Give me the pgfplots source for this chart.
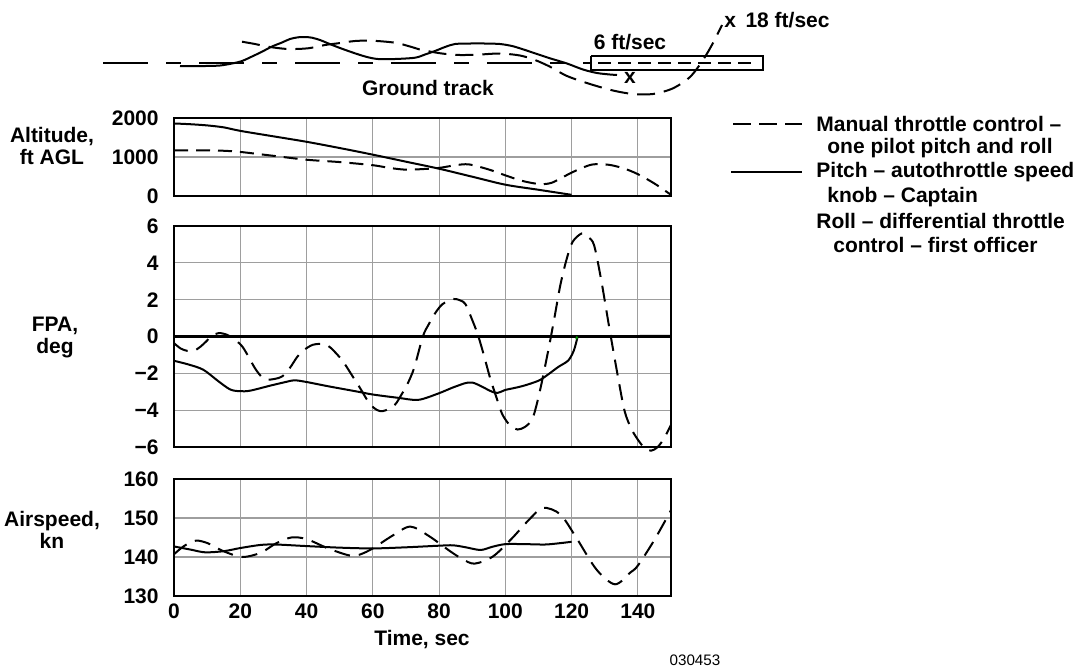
\documentclass[border=0pt]{standalone}
\usepackage{pgfplots}
\pgfplotsset{compat=1.18}
\usepackage{fontspec}
\setmainfont{Liberation Sans}

\pgfplotsset{
  panel/.style={
    scale only axis, width=248.5pt, anchor=north west,
    xmin=0, xmax=150, xtick={0,20,...,140},
    axis line style={line width=1.3pt},
    grid=major, grid style={line width=0.55pt, color=black!38},
    major tick length=0pt,
    tick label style={font=\bfseries\fontsize{10.5}{12}\selectfont},
    /pgf/number format/assume math mode=true,
    yticklabel style={xshift=-4pt},
    clip=false,
  },
  dat/.style={line width=1pt, black, smooth},
  man/.style={dat, dash pattern=on 8pt off 4.5pt},
}

\begin{document}
\fontsize{10.5}{11}\selectfont\bfseries
\begin{tikzpicture}
\path[use as bounding box] (0pt,0pt) rectangle (541.5pt,-334.5pt);

% sheet-level axis in drawing units: ground track, key and captions
\begin{axis}[at={(0pt,0pt)}, anchor=north west, scale only axis,
  width=541.5pt, height=334.5pt, xmin=0, xmax=1083, ymin=0, ymax=669,
  y dir=reverse, hide axis, clip=false]
  % runway centreline
  \addplot[black, line width=1pt, dash pattern=on 22.5pt off 9pt on 7.5pt off 9pt]
    coordinates {(103,62.5) (590,62.5)};
  \addplot[black, line width=1pt, dash pattern=on 6.5pt off 3.5pt]
    coordinates {(598,62.5) (758,62.5)};
  % touchdown zone box
  \addplot[black, line width=0.9pt] coordinates {(591,56) (763,56) (763,70) (591,70) (591,56)};
  % ground track, automatic-throttle flight
  \addplot[dat] coordinates {(180,66) (205,66) (220,65.5) (232,63.5) (242,61) (252,56.5)
    (262,51.7) (272,46.5) (282,42.5) (290,39) (298,37.3) (305,37) (312,37.7) (320,40)
    (328,43.3) (340,48) (355,53.3) (367,57) (378,59) (395,59) (415,57.7) (425,54.5)
    (435,51) (445,47) (455,44) (470,43.5) (485,43.5) (500,44) (512,46) (523,49.3)
    (537,54) (550,58.3) (567,63.5) (583,69.5) (597,73) (610,74.5) (617,75)};
  % ground track, manual throttle flight
  \addplot[man, dash pattern=on 9pt off 4.5pt] coordinates {(242,41.7) (255,44) (268,46.7)
    (288,49) (308,48.3) (325,45) (338,43.3) (355,41) (372,40.7) (395,42.7) (410,46.5)
    (422,50) (442,53.5) (460,55) (480,54.5) (500,53.5) (520,55.5) (535,60) (550,66.7)
    (567,76) (590,84) (613,90.5) (633,94) (653,94) (673,88.3) (690,77) (703,60)
    (713,43) (722,25)};
  \node at (axis cs:428,88) {Ground track};
  \node at (axis cs:630,42) {6 ft/sec};
  \node at (axis cs:630,78) {x};
  \node[anchor=west, inner sep=0pt] at (axis cs:724,20) {x\hspace{0.45em}18 ft/sec};

  % key
  \addplot[black, line width=1pt, dash pattern=on 9pt off 4pt] coordinates {(733,124) (802,124)};
  \addplot[black, line width=1pt] coordinates {(731,172) (802,172)};
  \node[anchor=west, inner sep=0pt] at (axis cs:816,124) {Manual throttle control –};
  \node[anchor=west, inner sep=0pt] at (axis cs:827,148) {one pilot pitch and roll};
  \node[anchor=west, inner sep=0pt] at (axis cs:816,172) {Pitch – autothrottle speed};
  \node[anchor=west, inner sep=0pt] at (axis cs:827,197) {knob – Captain};
  \node[anchor=west, inner sep=0pt] at (axis cs:816,221) {Roll – differential throttle};
  \node[anchor=west, inner sep=0pt] at (axis cs:833,245) {control – first officer};

  % panel captions
  \node[align=center] at (axis cs:52,146) {Altitude,\\ft AGL};
  \node[align=center] at (axis cs:55,337) {FPA,\\deg};
  \node[align=center] at (axis cs:52,530) {Airspeed,\\kn};
  \node at (axis cs:422,640) {Time, sec};
  \node[font=\mdseries\fontsize{7.6}{9}\selectfont] at (axis cs:695,660) {030453};
\end{axis}

% altitude
\begin{axis}[panel, at={(87pt,-59pt)}, height=39pt,
  ymin=0, ymax=2000, ytick={0,1000,2000}, yticklabels={0,1000,2000},
  xticklabels={}]
  \addplot[dat] coordinates {(0,1860) (5,1840) (10,1810) (15,1760) (20,1670) (30,1530)
    (40,1390) (50,1230) (60,1060) (70,880) (80,700) (90,495) (100,290) (110,160) (120,30)};
  \addplot[man, dash pattern=on 7pt off 4pt] coordinates {(0,1170) (10,1170) (15,1160)
    (20,1130) (30,1030) (40,930) (50,870) (60,790) (65,720) (70,675) (75,690) (80,720)
    (85,790) (89,810) (95,680) (100,530) (105,390) (110,310) (114,340) (120,600)
    (125,780) (128,820) (132,790) (136,700) (140,560) (145,320) (150,30)};
\end{axis}

% flight path angle
\begin{axis}[panel, at={(87pt,-113pt)}, height=110.5pt,
  ymin=-6, ymax=6, ytick={-6,-4,...,6}, yticklabels={−6,−4,−2,0,2,4,6},
  xticklabels={}]
  \addplot[black, line width=1.5pt] coordinates {(0,0) (150,0)};
  \addplot[dat] coordinates {(0,-1.32) (4,-1.5) (8.8,-1.8) (13.4,-2.43) (17,-2.88)
    (20,-2.97) (23,-2.94) (29,-2.67) (33,-2.5) (36.3,-2.38) (40,-2.47) (46.5,-2.7)
    (55.6,-3.0) (60,-3.15) (67.7,-3.33) (73.7,-3.44) (79.7,-3.1) (85.2,-2.7)
    (90,-2.5) (96.8,-3.05) (100,-2.9) (105,-2.7) (110,-2.4) (113,-2.05) (116,-1.65)
    (119,-1.3) (120.7,-0.75) (121.7,-0.1) (122,0) (135,0.02) (150,0.04)};
  \addplot[man] coordinates {(0,-0.36) (2,-0.65) (4,-0.78) (6,-0.78) (8,-0.55)
    (9.7,-0.27) (11.5,0.05) (13.4,0.18) (15,0.15) (17,0) (20.6,-0.54) (24.4,-1.71)
    (26.5,-2.2) (28.1,-2.34) (30.5,-2.3) (32.7,-2.16) (35,-1.7) (37.3,-1.08)
    (39.5,-0.7) (41.9,-0.45) (44.7,-0.4) (46.5,-0.5) (48.4,-0.81) (51,-1.35)
    (53.9,-2.16) (56.5,-2.9) (58.5,-3.5) (60.5,-3.9) (62.2,-4.05) (64,-4.0)
    (66.7,-3.7) (68.5,-3.2) (70.4,-2.6) (72.5,-1.7) (75.1,0) (77,0.7) (78.8,1.26)
    (81,1.75) (84.3,2.04) (86.5,1.95) (88,1.75) (90,0.9) (91.7,0.1) (93.5,-1.0)
    (95.4,-2.25) (97.3,-3.3) (99.1,-4.23) (101.5,-4.85) (103.7,-5.05) (106,-4.9)
    (108.3,-4.41) (110.5,-2.9) (112.9,-0.81) (114.8,1.0) (116.6,2.79) (118.5,4.2)
    (120.3,5.14) (123.1,5.6) (125,5.4) (126.8,4.95) (129,3.0) (131.4,0.45)
    (134,-2.2) (136,-4.05) (138,-5.0) (140,-5.6) (142,-6.05) (144,-6.2) (146,-6.0)
    (148,-5.5) (150,-4.8)};
  \addplot[green!55!black, line width=1pt] coordinates {(121.4,-0.15) (121.7,0)};
\end{axis}

% airspeed
\begin{axis}[panel, at={(87pt,-239.5pt)}, height=58.5pt,
  ymin=130, ymax=160, ytick={130,140,150,160}, yticklabels={130,140,150,160},
  xticklabels={0,20,40,60,80,100,120,140}]
  \addplot[dat] coordinates {(0,142.7) (5,141.9) (9.4,141.2) (15.1,141.5) (20,142.3)
    (26.2,143.1) (30.8,143.2) (40,142.8) (50,142.4) (60,142.2) (70.4,142.5) (80,142.9)
    (84.2,143.0) (88,142.5) (92.5,141.8) (96,142.6) (100,143.3) (106,143.3)
    (111.9,143.2) (116,143.5) (120,143.9)};
  \addplot[man] coordinates {(0,140.7) (3,142.8) (6.6,144.2) (10.3,143.5) (14.9,141.5)
    (20.6,140.0) (26.2,141.1) (30.8,143.5) (35.4,145.0) (40,144.6) (46.5,142.2)
    (52.9,140.4) (56,140.6) (60,142.2) (65.8,145.4) (71.3,147.8) (76.9,145.4)
    (83.3,141.5) (87,139.5) (90.7,138.3) (96.2,140.1) (101.8,144.6) (107.3,149.7)
    (111.4,152.6) (116.5,151.0) (121.1,145.4) (127.5,136.8) (133.1,133.0)
    (137.7,136.0) (140,137.8) (145,144.4) (150,152.0)};
\end{axis}
\end{tikzpicture}
\end{document}
